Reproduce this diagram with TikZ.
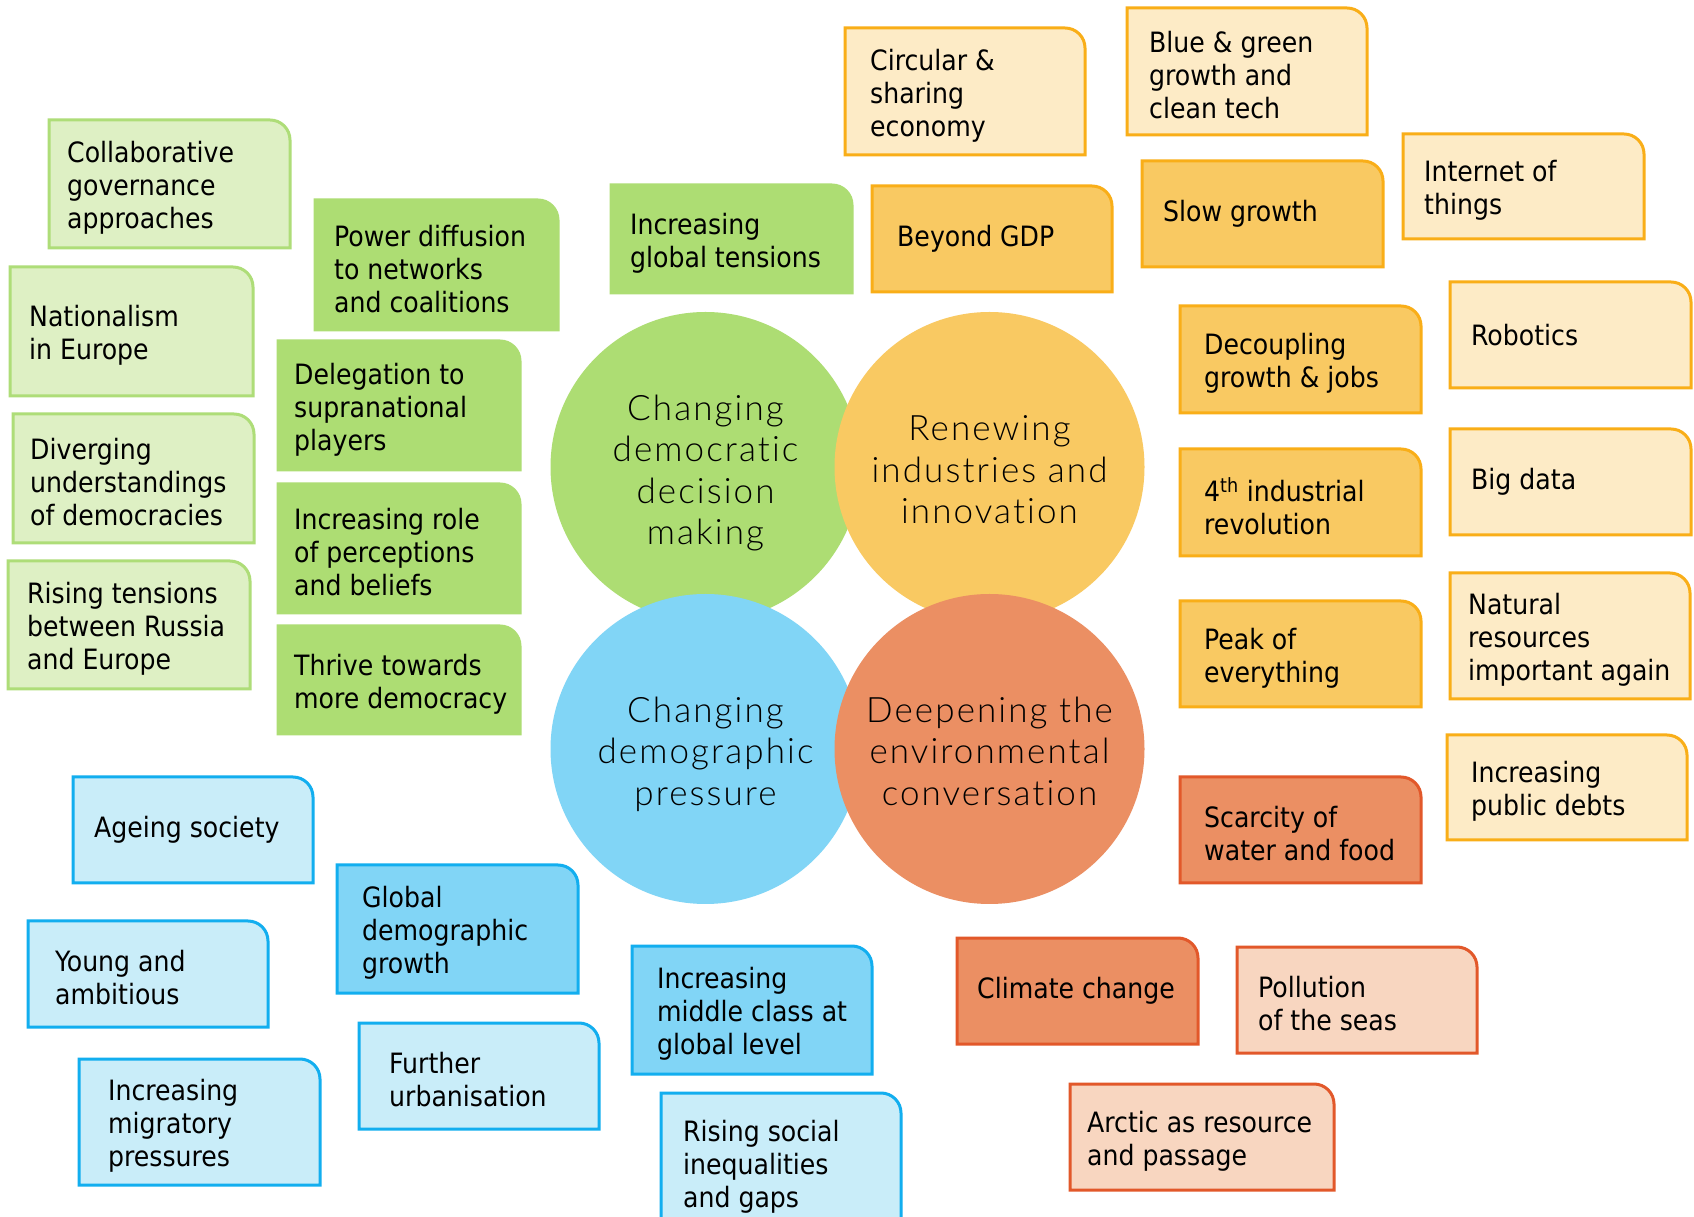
\documentclass[tikz,border=0pt]{standalone}
\usepackage{fontspec}
\setmainfont{DejaVu Sans Condensed}
\newfontfamily\circfont{Lato Light}[LetterSpace=6,Ligatures=NoCommon]
\usetikzlibrary{calc}
\definecolor{glF}{HTML}{DEF0C4}
\definecolor{glD}{HTML}{AEDD78}
\definecolor{gdF}{HTML}{ADDD73}
\definecolor{ylF}{HTML}{FDEBC6}
\definecolor{yD}{HTML}{F9AE18}
\definecolor{ydF}{HTML}{F9C962}
\definecolor{odF}{HTML}{EB8F63}
\definecolor{oD}{HTML}{E2582A}
\definecolor{olF}{HTML}{F8D6C0}
\definecolor{blF}{HTML}{C9EDF9}
\definecolor{bD}{HTML}{12AEEF}
\definecolor{bdF}{HTML}{81D5F6}
\tikzset{
  boxframe/.style={line width=3pt, line join=miter},
  gl/.style={boxframe, fill=glF, draw=glD},
  gd/.style={boxframe, fill=gdF, draw=gdF},
  yl/.style={boxframe, fill=ylF, draw=yD},
  yd/.style={boxframe, fill=ydF, draw=yD},
  od/.style={boxframe, fill=odF, draw=oD},
  ol/.style={boxframe, fill=olF, draw=oD},
  bl/.style={boxframe, fill=blF, draw=bD},
  bd/.style={boxframe, fill=bdF, draw=bD},
  ml/.style={yshift=-4pt},
  boxarea/.style={rectangle, inner sep=0pt, outer sep=0pt, anchor=north west},
  boxtext/.style={anchor=west, align=left, inner sep=0pt, font=\fontsize{28}{33}\selectfont},
  circ/.style={circle, minimum size=310pt, inner sep=0pt},
  circtext/.style={align=center, inner sep=0pt, font=\circfont\fontsize{35}{41.5}\selectfont},
}
% #1 name, #2 x, #3 y(top), #4 w, #5 h, #6 frame style, #7 text options, #8 text
\newcommand{\trendbox}[8]{%
  \node[boxarea, minimum width=#4pt, minimum height=#5pt] (#1) at (#2,{1216-#3}) {};
  \draw[#6] (#1.south west) -- (#1.north west) -- ([xshift=-20pt]#1.north east)
     arc[start angle=90, end angle=0, radius=20pt] -- (#1.south east) -- cycle;
  \node[boxtext, #7] (#1-t) at (#1.west) {#8};
}
\begin{document}
\begin{tikzpicture}[x=1pt,y=1pt]
\useasboundingbox (0,0) rectangle (1694,1216);
\clip (0,0) rectangle (1694,1216);
\fill[white] (0,0) rectangle (1694,1216);
% green
\trendbox{collab}{49}{120}{241}{128}{gl}{xshift=18pt,ml}{Collaborative\\governance\\approaches}
\trendbox{nation}{10}{267}{243}{129}{gl}{xshift=19pt,ml}{Nationalism\\in Europe}
\trendbox{diverg}{13}{414}{241}{129}{gl}{xshift=17pt,ml}{Diverging\\understandings\\of democracies}
\trendbox{russia}{8}{561}{242}{128}{gl}{xshift=19pt,ml}{Rising tensions\\between Russia\\and Europe}
\trendbox{power}{315}{200}{243}{130}{gd}{xshift=19pt,ml}{Power diffusion\\to networks\\and coalitions}
\trendbox{deleg}{278}{341}{242}{129}{gd}{xshift=16pt,ml}{Delegation to\\supranational\\players}
\trendbox{percep}{278}{484}{242}{129}{gd}{xshift=16pt,ml}{Increasing role\\of perceptions\\and beliefs}
\trendbox{thrive}{278}{626}{242}{108}{gd}{xshift=16pt,ml}{Thrive towards\\more democracy}
\trendbox{globten}{611}{185}{241}{108}{gd}{xshift=19pt,ml}{Increasing\\global tensions}
% yellow
\trendbox{circular}{845}{28}{240}{127}{yl}{xshift=25pt,ml}{Circular \&\\sharing\\economy}
\trendbox{bluegreen}{1127}{8}{240}{127}{yl}{xshift=22pt,ml}{Blue \& green\\growth and\\clean tech}
\trendbox{iot}{1403}{134}{241}{105}{yl}{xshift=21pt,ml}{Internet of\\things}
\trendbox{robot}{1450}{282}{241}{106}{yl}{xshift=21pt}{Robotics}
\trendbox{bigdata}{1450}{429}{241}{106}{yl}{xshift=21pt}{Big data}
\trendbox{natres}{1450}{573}{240}{126}{yl}{xshift=18pt,ml}{Natural\\resources\\important again}
\trendbox{debts}{1447}{735}{240}{105}{yl}{xshift=24pt,ml}{Increasing\\public debts}
\trendbox{beyond}{872}{186}{240}{106}{yd}{xshift=25pt}{Beyond GDP}
\trendbox{slow}{1142}{161}{241}{106}{yd}{xshift=21pt}{Slow growth}
\trendbox{decoup}{1180}{306}{241}{107}{yd}{xshift=24pt,ml}{Decoupling\\growth \& jobs}
\trendbox{fourth}{1180}{449}{241}{107}{yd}{xshift=24pt,ml}{4\textsuperscript{th} industrial\\revolution}
\trendbox{peak}{1180}{601}{241}{106}{yd}{xshift=24pt,ml}{Peak of\\everything}
% orange
\trendbox{scarce}{1180}{777}{241}{106}{od}{xshift=24pt,ml}{Scarcity of\\water and food}
\trendbox{climate}{957}{938}{241}{106}{od}{xshift=20pt}{Climate change}
\trendbox{pollut}{1237}{947}{240}{106}{ol}{xshift=21pt,ml}{Pollution\\of the seas}
\trendbox{arctic}{1070}{1084}{264}{106}{ol}{xshift=17pt,ml}{Arctic as resource\\and passage}
% blue
\trendbox{ageing}{73}{777}{240}{106}{bl}{xshift=21pt}{Ageing society}
\trendbox{young}{28}{921}{240}{106}{bl}{xshift=27pt,ml}{Young and\\ambitious}
\trendbox{urban}{359}{1023}{240}{106}{bl}{xshift=30pt,ml}{Further\\urbanisation}
\trendbox{migr}{79}{1059}{241}{126}{bl}{xshift=29pt,ml}{Increasing\\migratory\\pressures}
\trendbox{social}{661}{1093}{240}{140}{bl}{xshift=22pt,ml}{Rising social\\inequalities\\and gaps}
\trendbox{globdemo}{337}{865}{241}{128}{bd}{xshift=25pt,ml}{Global\\demographic\\growth}
\trendbox{middle}{632}{946}{240}{128}{bd}{xshift=25pt,ml}{Increasing\\middle class at\\global level}
% circles
\node[circ, fill=gdF] (democ) at (705.5,{1216-467}) {};
\node[circ, fill=ydF] (indus) at (989.5,{1216-467}) {};
\node[circ, fill=bdF] (demog) at (705.5,{1216-749}) {};
\node[circ, fill=odF] (envir) at (989.5,{1216-749}) {};
\node[circtext] (democ-t) at ([yshift=-6pt]democ.center) {Changing\\democratic\\decision\\making};
\node[circtext] (indus-t) at ([yshift=-3pt]indus.center) {Renewing\\industries and\\innovation};
\node[circtext] (demog-t) at ([yshift=-5pt]demog.center) {Changing\\demographic\\pressure};
\node[circtext] (envir-t) at ([yshift=-2pt]envir.center) {Deepening the\\environmental\\conversation};
\end{tikzpicture}
\end{document}
